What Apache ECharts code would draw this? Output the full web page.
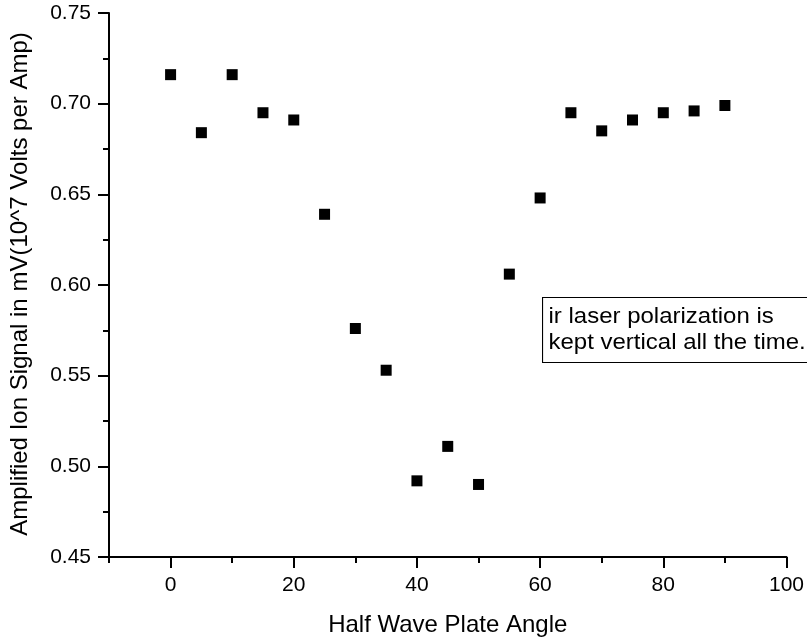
<!DOCTYPE html>
<html>
<head>
<meta charset="utf-8">
<script src="https://cdn.jsdelivr.net/npm/echarts@6.0.0/dist/echarts.min.js"></script>
<style>
    body { margin: 0; background: #ffffff; }
    #chart { width: 807px; height: 642px; }
</style>
</head>
<body>
<div id="chart"></div>
<script>
// half wave plate angle (deg) vs amplified ion signal
var angles = [0, 5, 10, 15, 20, 25, 30, 35, 40, 45, 50, 55, 60, 65, 70, 75, 80, 85, 90]
var signal = [0.716, 0.684, 0.716, 0.695, 0.691, 0.639, 0.576, 0.553, 0.492, 0.511,
              0.490, 0.606, 0.648, 0.695, 0.685, 0.691, 0.695, 0.696, 0.699]
var majorX = [0, 20, 40, 60, 80, 100]
var minorX = [-10, 10, 30, 50, 70, 90]

var font = 'Liberation Sans, Arial, sans-serif'

function getScatter() {
    var dom = document.getElementById('chart')
    var instance = echarts.init(dom)
    var points = angles.map(function (a, i) { return [a, signal[i]] })

    let option = {
        animation: false,
        grid: {
            left: 108,
            right: 19,
            top: 13,
            bottom: 84
        },
        xAxis: [
            {
                type: 'value',
                min: -10,
                max: 100,
                name: 'Half Wave Plate Angle',
                nameLocation: 'middle',
                nameGap: 56,
                nameTextStyle: { color: '#000', fontSize: 24, fontFamily: font },
                axisLine: { onZero: false, lineStyle: { color: '#000', width: 2 } },
                axisTick: { length: 11, lineStyle: { color: '#000', width: 2 }, customValues: majorX },
                axisLabel: { color: '#000', fontSize: 21, fontFamily: font, margin: 18, customValues: majorX },
                splitLine: { show: false }
            },
            {
                type: 'value',
                min: -10,
                max: 100,
                position: 'bottom',
                axisLine: { show: false, onZero: false },
                axisTick: { length: 6, lineStyle: { color: '#000', width: 2 }, customValues: minorX },
                axisLabel: { show: false },
                splitLine: { show: false }
            }
        ],
        yAxis: {
            type: 'value',
            min: 0.45,
            max: 0.75,
            interval: 0.05,
            name: 'Amplified Ion Signal in mV(10^7 Volts per Amp)',
            nameLocation: 'middle',
            nameGap: 77,
            nameTextStyle: { color: '#000', fontSize: 24, fontFamily: font, padding: [0, 0, 0, 2] },
            axisLine: { show: true, onZero: false, lineStyle: { color: '#000', width: 2 } },
            axisTick: { show: true, length: 11, lineStyle: { color: '#000', width: 2 } },
            minorTick: { show: true, splitNumber: 2, length: 6, lineStyle: { color: '#000', width: 2 } },
            axisLabel: {
                color: '#000',
                fontSize: 21,
                fontFamily: font,
                margin: 18,
                formatter: function (v) { return v.toFixed(2) }
            },
            splitLine: { show: false },
            minorSplitLine: { show: false }
        },
        graphic: [
            {
                type: 'text',
                left: 542,
                top: 297,
                scaleX: 1.09,
                style: {
                    text: 'ir laser polarization is\nkept vertical all the time.',
                    font: '22px ' + font,
                    fill: '#000',
                    lineHeight: 26,
                    borderColor: '#000',
                    borderWidth: 1,
                    backgroundColor: '#fff',
                    padding: [6, 10, 6, 5]
                }
            }
        ],
        series: [
            {
                type: 'scatter',
                xAxisIndex: 0,
                symbol: 'rect',
                symbolSize: 11,
                itemStyle: { color: '#000', opacity: 1 },
                data: points
            }
        ]
    }
    instance.setOption(option)
}

getScatter()
</script>
</body>
</html>
